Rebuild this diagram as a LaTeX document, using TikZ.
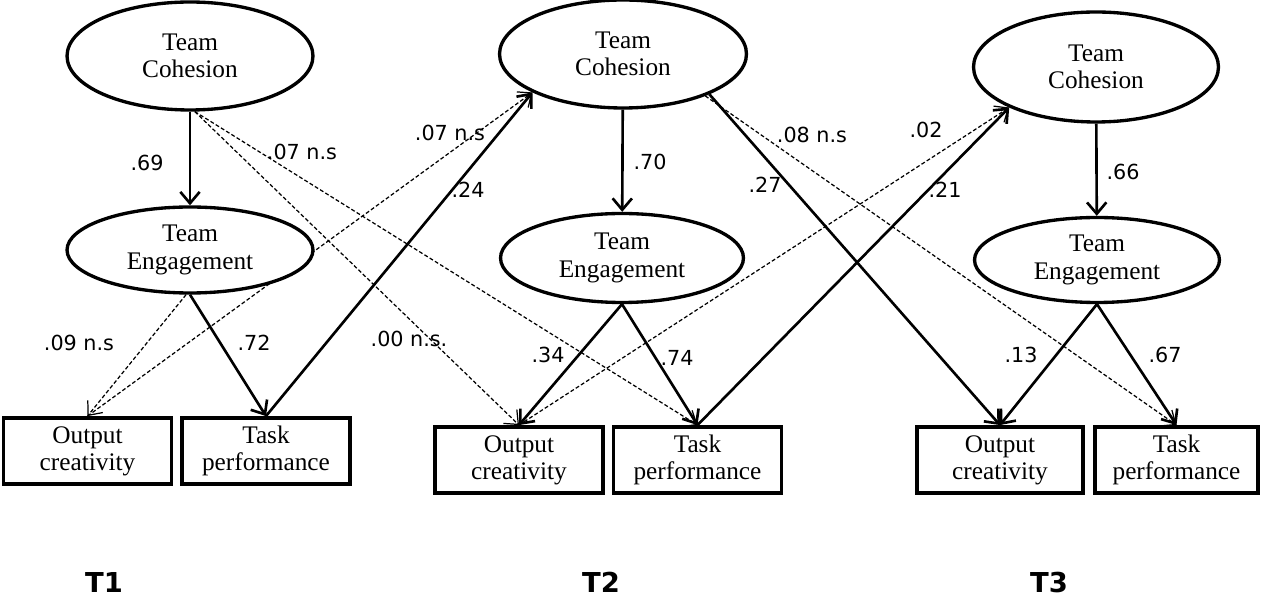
\documentclass[tikz,border=0pt]{standalone}
\usepackage{fontspec}
\setmainfont{Liberation Serif}
\newfontfamily\numfont{DejaVu Sans}
\usetikzlibrary{arrows.meta,shapes.geometric,backgrounds}

\begin{document}
\begin{tikzpicture}[x=0.02cm,y=-0.02cm,
        latent/.style={ellipse,draw,line width=1.9pt,fill=white,inner sep=0pt,align=center,font=\fontsize{14.4}{15.5}\selectfont},
        observed/.style={rectangle,draw,line width=2.2pt,fill=white,minimum width=3.36cm,minimum height=1.32cm,inner sep=0pt,align=center,font=\fontsize{14.4}{15.5}\selectfont},
        sig/.style={line width=1.5pt,-{Straight Barb[length=6.5pt,width=11pt]}},
        ns/.style={line width=0.7pt,dash pattern=on 2.2pt off 1.3pt,-{Straight Barb[length=6.5pt,width=11pt]}},
        coef/.style={font=\numfont\fontsize{11.8}{14}\selectfont,inner sep=0pt},
        wave/.style={font=\numfont\bfseries\fontsize{15.6}{18}\selectfont,inner sep=0pt,anchor=base}]
        \useasboundingbox (0,0) rectangle (1261,597);
        \node[latent,minimum width=4.92cm,minimum height=2.16cm](coh1)at(190,56){Team\\Cohesion};
        \node[latent,minimum width=4.92cm,minimum height=1.72cm](eng1)at(190,250){Team\\Engagement};
        \node[latent,minimum width=4.94cm,minimum height=2.16cm](coh2)at(623,54){Team\\Cohesion};
        \node[latent,minimum width=4.86cm,minimum height=1.78cm](eng2)at(622,258){Team\\Engagement};
        \node[latent,minimum width=4.9cm,minimum height=2.2cm](coh3)at(1096,67){Team\\Cohesion};
        \node[latent,minimum width=4.9cm,minimum height=1.7cm](eng3)at(1097,260){Team\\Engagement};
        \node[observed](out1)at(87.5,451){Output\\creativity};
        \node[observed](task1)at(266,451){Task\\performance};
        \node[observed](out2)at(519,460){Output\\creativity};
        \node[observed](task2)at(697.5,460){Task\\performance};
        \node[observed,minimum width=3.32cm](out3)at(1000,460){Output\\creativity};
        \node[observed,minimum width=3.26cm](task3)at(1176.5,460){Task\\performance};
        \begin{scope}[on background layer]
            \draw[sig](coh1)--(eng1);
            \draw[ns](eng1.-95)--(out1.north);
            \draw[sig](eng1.south)--(task1.north);
            \draw[ns](coh1.-85)--(out2.north);
            \draw[ns](coh1.-85)--(task2.north);
            \draw[ns](out1.north)--(coh2.-157);
            \draw[sig](task1.north)--(coh2.-157);
            \draw[sig](coh2)--(eng2);
            \draw[sig](eng2.south)--(out2.north);
            \draw[sig](eng2.south)--(task2.north);
            \draw[sig](coh2.-25)--(out3.north);
            \draw[ns](coh2.-27)--(task3.north);
            \draw[ns](out2.north)--(coh3.-155);
            \draw[sig](task2.north)--(coh3.-155);
            \draw[sig](coh3)--(eng3);
            \draw[sig](eng3.south)--(out3.north);
            \draw[sig](eng3.south)--(task3.north);
        \end{scope}
        \node[coef](c69)at(147,163){.69};
        \node[coef](c07a)at(302,152){.07 n.s};
        \node[coef](c09)at(79,343){.09 n.s};
        \node[coef](c72)at(254,343){.72};
        \node[coef](c00)at(409,339){.00 n.s.};
        \node[coef](c07b)at(450,133){.07 n.s};
        \node[coef](c24)at(468,190){.24};
        \node[coef](c70)at(650,162){.70};
        \node[coef](c27)at(765,185){.27};
        \node[coef](c08)at(812,135){.08 n.s};
        \node[coef](c34)at(548,355){.34};
        \node[coef](c74)at(677,358){.74};
        \node[coef](c02)at(926,130){.02};
        \node[coef](c21)at(945,190){.21};
        \node[coef](c66)at(1123,172){.66};
        \node[coef](c13)at(1021,355){.13};
        \node[coef](c67)at(1165,355){.67};
        \node[wave](t1)at(104,592){T1};
        \node[wave](t2)at(601,592){T2};
        \node[wave](t3)at(1049,592){T3};
\end{tikzpicture}
\end{document}
